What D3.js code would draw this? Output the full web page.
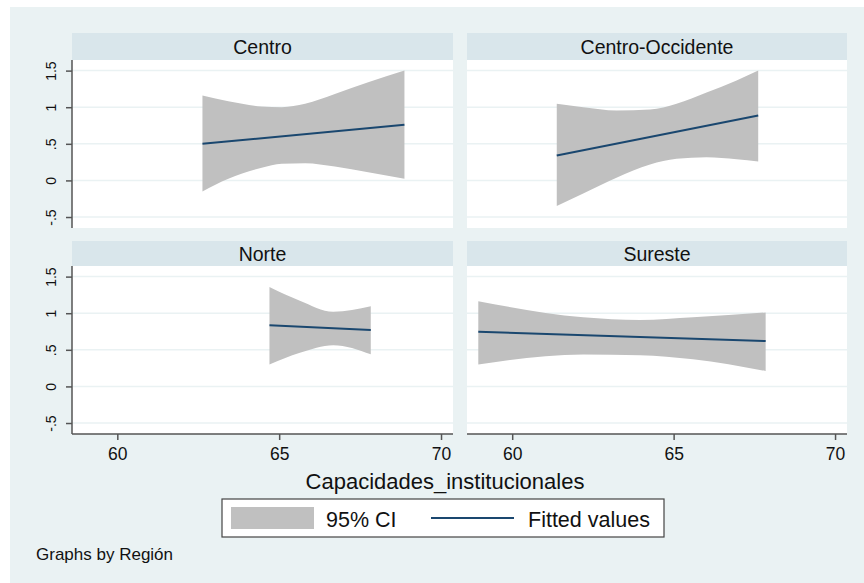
<!DOCTYPE html>
<html>
<head>
<meta charset="utf-8">
<script src="https://cdn.jsdelivr.net/npm/d3@7"></script>
<style>
body{margin:0;background:#fff}
text{font-family:"Liberation Sans", Arial, sans-serif;fill:#111}
</style>
</head>
<body>
<div id="field"></div>
<script>
var width = 864
var height = 583

// data
var regions = ["Centro", "Centro-Occidente", "Norte", "Sureste"]
var centroX  = [62.63, 63.43, 64.46, 65.08, 65.8, 66.72, 67.75, 68.87]
var centroLo = [-0.15, 0.023, 0.173, 0.228, 0.236, 0.19, 0.113, 0.023]
var centroHi = [1.16, 1.08, 1.01, 1.0, 1.046, 1.18, 1.34, 1.5]
var centroFit = [0.5, 0.76]
var occX  = [61.38, 62.2, 63.23, 64.27, 65.09, 66.02, 66.95, 67.62]
var occLo = [-0.35, -0.18, 0.037, 0.218, 0.296, 0.318, 0.29, 0.26]
var occHi = [1.046, 1.0, 0.955, 0.968, 1.046, 1.2, 1.364, 1.5]
var occFit = [0.341, 0.887]
var norteX  = [64.7, 65.64, 66.67, 67.83]
var norteLo = [0.3, 0.46, 0.564, 0.44]
var norteHi = [1.357, 1.17, 1.02, 1.096]
var norteFit = [0.835, 0.77]
var suresteX  = [58.95, 62.2, 63.96, 65.6, 67.85]
var suresteLo = [0.3, 0.436, 0.426, 0.37, 0.21]
var suresteHi = [1.165, 0.945, 0.908, 0.945, 1.01]
var suresteFit = [0.747, 0.619]
var xTicks = [60, 65, 70]
var yTicks = [-0.5, 0, 0.5, 1, 1.5]
var yTickLabels = ["-.5", "0", ".5", "1", "1.5"]

var bandColor = "#c0c0c0"
var lineColor = "#1a476f"

var svg = d3.select("div#field").append("svg")
	.attr("width", width)
	.attr("height", height)

svg.append("rect")
	.attr("x", 10).attr("y", 7)
	.attr("width", width - 10).attr("height", height - 7)
	.attr("fill", "#eaf2f3")

function series(xs, lo, hi, fit){
	return {
		band: xs.map(function(x, i){ return {x: x, lo: lo[i], hi: hi[i]} }),
		fit: [{x: xs[0], y: fit[0]}, {x: xs[xs.length-1], y: fit[1]}]
	}
}
var panels = [
	{name: regions[0], left: 72,  right: 453, head: 33,  top: 60,  bottom: 228, yAxis: true,  xAxis: false, s: series(centroX, centroLo, centroHi, centroFit)},
	{name: regions[1], left: 467, right: 847, head: 33,  top: 60,  bottom: 228, yAxis: false, xAxis: false, s: series(occX, occLo, occHi, occFit)},
	{name: regions[2], left: 72,  right: 453, head: 241, top: 266, bottom: 434, yAxis: true,  xAxis: true,  s: series(norteX, norteLo, norteHi, norteFit)},
	{name: regions[3], left: 467, right: 847, head: 241, top: 266, bottom: 434, yAxis: false, xAxis: true,  s: series(suresteX, suresteLo, suresteHi, suresteFit)}
]

panels.forEach(function(p){
	var x = d3.scaleLinear().domain([58.6, 70.37]).range([p.left, p.right])
	var y = d3.scaleLinear().domain([-0.65, 1.645]).range([p.bottom, p.top])
	var g = svg.append("g")

	// header strip
	g.append("rect")
		.attr("x", p.left).attr("y", p.head)
		.attr("width", p.right - p.left).attr("height", p.top - p.head)
		.attr("fill", "#d9e6eb")
	g.append("text")
		.attr("x", (p.left + p.right) / 2)
		.attr("y", (p.head + p.top) / 2 + 7)
		.attr("text-anchor", "middle")
		.style("font-size", "19.5px")
		.text(p.name)

	// plot region
	g.append("rect")
		.attr("x", p.left).attr("y", p.top)
		.attr("width", p.right - p.left).attr("height", p.bottom - p.top)
		.attr("fill", "#fff")
	g.selectAll("line.grid")
		.data(yTicks).enter()
		.append("line")
		  .classed("grid", true)
		  .attr("x1", p.left).attr("x2", p.right)
		  .attr("y1", function(d){ return y(d) }).attr("y2", function(d){ return y(d) })
		  .attr("stroke", "#eaf2f3")
		  .attr("stroke-width", 1.5)

	g.append("path")
		.datum(p.s.band)
		.attr("d", d3.area()
			.x(function(d){ return x(d.x) })
			.y0(function(d){ return y(d.lo) })
			.y1(function(d){ return y(d.hi) })
			.curve(d3.curveMonotoneX))
		.attr("fill", bandColor)
	g.append("path")
		.datum(p.s.fit)
		.attr("d", d3.line()
			.x(function(d){ return x(d.x) })
			.y(function(d){ return y(d.y) }))
		.attr("fill", "none")
		.attr("stroke", lineColor)
		.attr("stroke-width", 2)

	if(p.yAxis){
		var ya = g.append("g")
			.attr("transform", "translate(" + p.left + ",0)")
			.call(d3.axisLeft(y).tickValues(yTicks).tickSize(6).tickPadding(0).tickFormat(function(d, i){ return yTickLabels[i] }))
		ya.select(".domain").attr("d", "M0," + p.top + "V" + p.bottom).attr("stroke", "#555").attr("stroke-width", 1.5)
		ya.selectAll(".tick line").attr("stroke", "#555").attr("stroke-width", 1.5)
		ya.selectAll(".tick text")
			.attr("x", null).attr("dy", null)
			.attr("transform", "translate(-16,0) rotate(-90)")
			.attr("text-anchor", "middle")
			.style("font-size", "14px")
			.style("fill", "#111")
	}
	if(p.xAxis){
		var xa = g.append("g")
			.attr("transform", "translate(0," + p.bottom + ")")
			.call(d3.axisBottom(x).tickValues(xTicks).tickSize(6).tickPadding(8))
		xa.select(".domain").attr("d", "M" + p.left + ",0H" + p.right).attr("stroke", "#555").attr("stroke-width", 1.5)
		xa.selectAll(".tick line").attr("stroke", "#555").attr("stroke-width", 1.5)
		xa.selectAll(".tick text")
			.attr("dy", null).attr("y", 26)
			.style("font-size", "17.5px")
			.style("fill", "#111")
	}
})

svg.append("text")
	.attr("x", 445).attr("y", 489)
	.attr("text-anchor", "middle")
	.style("font-size", "22px")
	.text("Capacidades_institucionales")

// legend
var lg = svg.append("g")
lg.append("rect")
	.attr("x", 222).attr("y", 499).attr("width", 442).attr("height", 38)
	.attr("fill", "#fff").attr("stroke", "#444").attr("stroke-width", 1.2)
lg.append("rect")
	.attr("x", 231).attr("y", 507).attr("width", 83).attr("height", 22)
	.attr("fill", bandColor)
lg.append("text")
	.attr("x", 326).attr("y", 527)
	.style("font-size", "21.5px")
	.text("95% CI")
lg.append("line")
	.attr("x1", 431).attr("x2", 514).attr("y1", 518).attr("y2", 518)
	.attr("stroke", lineColor).attr("stroke-width", 2)
lg.append("text")
	.attr("x", 528).attr("y", 527)
	.style("font-size", "21.5px")
	.text("Fitted values")

svg.append("text")
	.attr("x", 36).attr("y", 560)
	.style("font-size", "17px")
	.text("Graphs by Región")
</script>
</body>
</html>
